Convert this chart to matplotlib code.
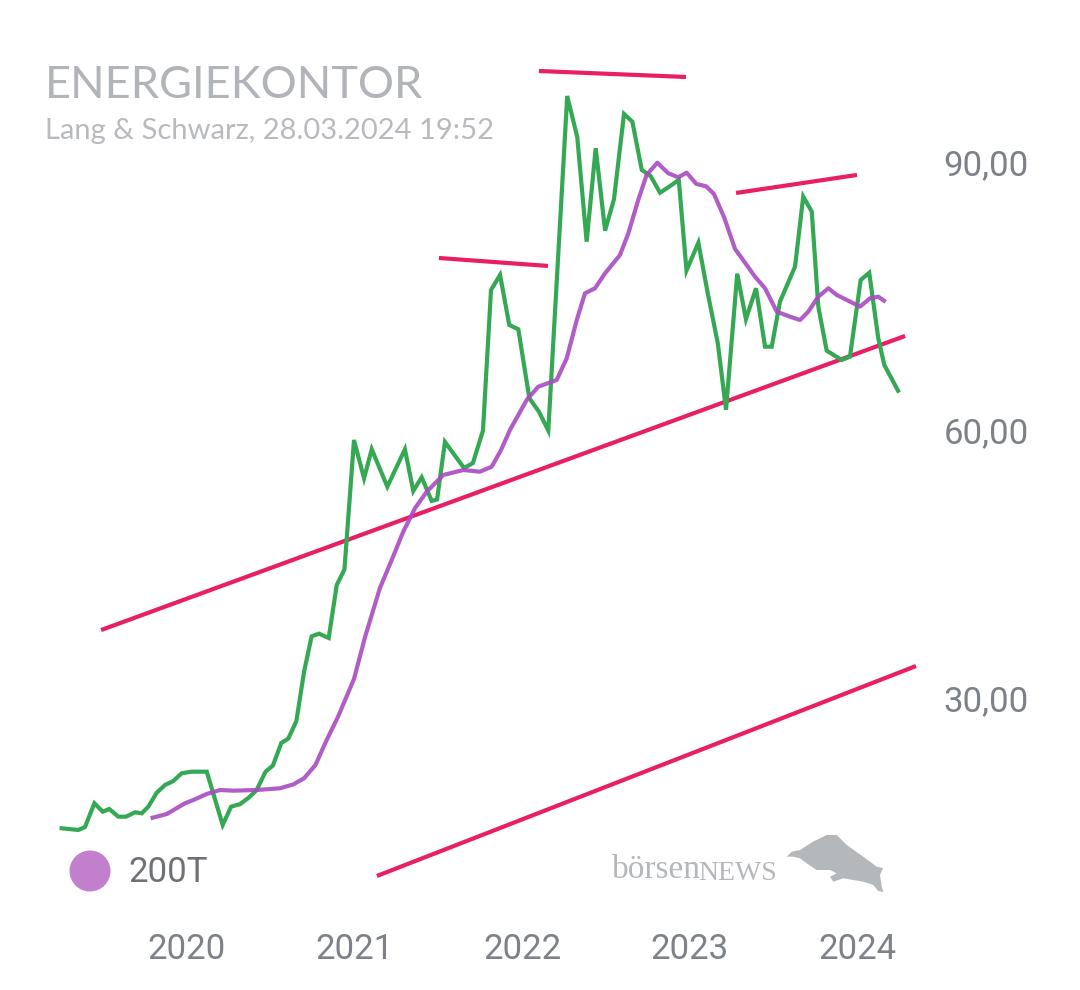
"""
Energiekontor price chart (Lang & Schwarz) with 200-day average and trend lines.
Writes out.png.
"""

import matplotlib
matplotlib.use("Agg")
import matplotlib.pyplot as plt
from matplotlib.patches import Circle, Polygon


# closing price, x as decimal year
price_t = [2019.252, 2019.351, 2019.391, 2019.447, 2019.497, 2019.536, 2019.590, 2019.636,
           2019.690, 2019.730, 2019.769, 2019.819, 2019.869, 2019.918, 2019.968, 2020.028,
           2020.118, 2020.213, 2020.263, 2020.316, 2020.370, 2020.416, 2020.469, 2020.513,
           2020.563, 2020.605, 2020.653, 2020.699, 2020.744, 2020.788, 2020.846, 2020.894,
           2020.940, 2020.997, 2021.057, 2021.103, 2021.196, 2021.301, 2021.351, 2021.401,
           2021.461, 2021.493, 2021.540, 2021.654, 2021.707, 2021.767, 2021.815, 2021.869,
           2021.924, 2021.978, 2022.044, 2022.101, 2022.157, 2022.270, 2022.330, 2022.386,
           2022.440, 2022.496, 2022.549, 2022.609, 2022.659, 2022.715, 2022.768, 2022.824,
           2022.879, 2022.936, 2022.982, 2023.053, 2023.108, 2023.169, 2023.218, 2023.285,
           2023.337, 2023.397, 2023.451, 2023.491, 2023.540, 2023.630, 2023.679, 2023.730,
           2023.769, 2023.819, 2023.909, 2023.958, 2024.022, 2024.073, 2024.127, 2024.163,
           2024.245]
price_v = [15.40, 15.21, 15.54, 18.20, 17.26, 17.56, 16.70, 16.70,
           17.19, 17.08, 17.82, 19.38, 20.25, 20.69, 21.56, 21.74,
           21.74, 15.77, 17.82, 18.10, 18.85, 19.69, 21.74, 22.43,
           24.95, 25.45, 27.41, 32.93, 36.90, 37.19, 36.71, 42.64,
           44.38, 58.88, 54.59, 57.84, 53.65, 57.84, 53.17, 54.70,
           52.05, 52.22, 58.66, 55.74, 56.30, 59.94, 75.68, 77.36,
           71.76, 71.28, 63.55, 62.05, 59.94, 97.40, 92.78, 81.09,
           91.55, 82.32, 85.83, 95.39, 94.52, 89.12, 88.44, 86.57,
           87.25, 88.00, 77.86, 80.97, 75.40, 69.71, 62.27, 77.50,
           72.40, 75.87, 69.33, 69.33, 74.37, 78.29, 86.13, 84.45,
           73.81, 68.88, 67.84, 68.21, 76.80, 77.61, 70.27, 67.28,
           64.40]

# 200-day moving average
ma_t = [2019.795, 2019.879, 2019.988, 2020.038, 2020.118, 2020.197, 2020.276, 2020.416,
        2020.555, 2020.635, 2020.699, 2020.767, 2020.834, 2020.901, 2020.997, 2021.063,
        2021.152, 2021.222, 2021.291, 2021.361, 2021.431, 2021.530, 2021.650, 2021.749,
        2021.819, 2021.875, 2021.928, 2022.028, 2022.097, 2022.207, 2022.267, 2022.327,
        2022.376, 2022.436, 2022.496, 2022.585, 2022.635, 2022.694, 2022.744, 2022.808,
        2022.873, 2022.933, 2022.983, 2023.041, 2023.099, 2023.146, 2023.206, 2023.272,
        2023.341, 2023.391, 2023.451, 2023.521, 2023.600, 2023.660, 2023.709, 2023.769,
        2023.829, 2023.879, 2023.939, 2024.018, 2024.078, 2024.127, 2024.161]
ma_v = [16.58, 17.00, 18.20, 18.57, 19.24, 19.69, 19.61, 19.69,
        19.88, 20.32, 21.00, 22.49, 25.29, 27.86, 32.12, 36.82,
        42.31, 45.44, 48.61, 51.23, 53.09, 54.96, 55.52, 55.33,
        55.89, 57.76, 60.00, 63.36, 64.85, 65.60, 68.03, 72.32,
        75.31, 75.87, 77.55, 79.60, 82.03, 85.76, 88.56, 89.93,
        88.75, 88.30, 88.81, 87.55, 87.29, 86.43, 83.85, 80.27,
        78.48, 77.17, 75.87, 73.25, 72.69, 72.32, 73.25, 74.93,
        75.87, 75.12, 74.56, 73.81, 74.75, 74.93, 74.48]

# hand-drawn trend lines (start, end)
support_t, support_v = [2019.487, 2024.287], [37.60, 70.53]
channel_t, channel_v = [2021.134, 2024.352], [10.06, 33.57]
resist1_t, resist1_v = [2021.504, 2022.155], [79.26, 78.37]
resist2_t, resist2_v = [2022.101, 2022.979], [100.20, 99.53]
resist3_t, resist3_v = [2023.278, 2024.000], [86.54, 88.56]

year_ticks = [2020, 2021, 2022, 2023, 2024]
price_ticks = [30, 60, 90]
price_labels = ["30,00", "60,00", "90,00"]

GREEN = "#34a853"
PURPLE = "#a94bc1"
RED = "#e91e63"
TICK_GREY = "#7d8288"
LOGO_GREY = "#b5b8bb"

W, H = 1080, 990
fig = plt.figure(figsize=(W / 100, H / 100), dpi=100)
ax = fig.add_axes([0, 90 / H, 920 / W, 900 / H])

for t, v in [(support_t, support_v), (channel_t, channel_v), (resist1_t, resist1_v),
             (resist2_t, resist2_v), (resist3_t, resist3_v)]:
    ax.plot(t, v, color=RED, lw=3.0, solid_capstyle="butt")
ax.plot(price_t, price_v, color=GREEN, lw=3.0, solid_joinstyle="miter")
ax.plot(ma_t, ma_v, color=PURPLE, lw=3.0, alpha=0.9)

ax.set_xlim(2018.8836, 2024.3761)
ax.set_ylim(7.37, 108.15)
for s in ax.spines.values():
    s.set_visible(False)

ax.set_xticks(year_ticks)
ax.set_xticklabels([str(y) for y in year_ticks])
ax.set_yticks(price_ticks)
ax.set_yticklabels(price_labels)
ax.yaxis.tick_right()
ax.tick_params(axis="x", length=0, pad=24, labelsize=25, labelcolor=TICK_GREY)
ax.tick_params(axis="y", length=0, pad=17, labelsize=25, labelcolor=TICK_GREY)
for lab in ax.get_xticklabels() + ax.get_yticklabels():
    lab.set_fontfamily("Roboto")

# header
fig.text(45 / W, 1 - 86 / H, "ENERGIEKONTOR", fontsize=32.5, color="#b1b4b8",
         family="Lato", va="center", ha="left")
fig.text(45 / W, 1 - 131 / H, "Lang & Schwarz, 28.03.2024 19:52", fontsize=21,
         color="#b7babe", family="Lato", va="center", ha="left")

# legend
fig.add_artist(Circle((0.90, (H - 871) / 100), 0.205, transform=fig.dpi_scale_trans,
                      color="#c27fce", lw=0))
fig.text(128 / W, 1 - 872 / H, "200T", fontsize=25, color="#6e7277", family="Roboto",
         va="center", ha="left")

# watermark
fig.text(612 / W, 1 - 870 / H, "börsen", fontsize=24, color=LOGO_GREY,
         family="Liberation Serif", va="center", ha="left")
fig.text(698 / W, 1 - 873 / H, "NEWS", fontsize=20, color=LOGO_GREY,
         family="Liberation Serif", va="center", ha="left")
bull = [(786.7, 856.7), (791.7, 851.7), (800, 850), (813, 841.7), (826.7, 835),
        (836.7, 835), (846.7, 845), (863.3, 856.7), (876.7, 866.7), (883, 868),
        (880, 875), (881.7, 886.7), (883.3, 892), (878.3, 891), (873.3, 885),
        (863.3, 881.7), (843.3, 878.3), (833.3, 881.7), (830, 876.7), (836.7, 873.3),
        (830, 870), (816.7, 870), (806.7, 863.3), (800, 858.3), (793.3, 856.7)]
fig.add_artist(Polygon([(x / W, 1 - y / H) for x, y in bull], closed=True,
                       transform=fig.transFigure, color=LOGO_GREY, lw=0))

fig.savefig("out.png", dpi=100)
